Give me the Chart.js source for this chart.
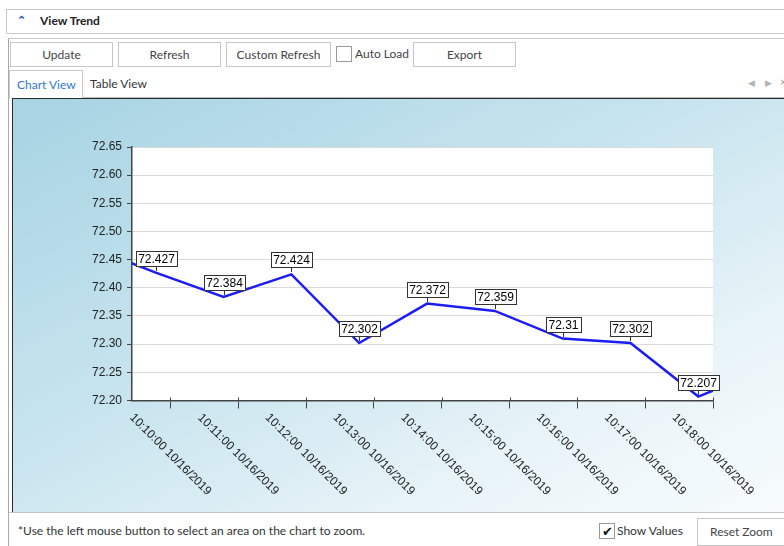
<!DOCTYPE html>
<html>
<head>
<meta charset="utf-8">
<title>View Trend</title>
<script src="https://cdn.jsdelivr.net/npm/chart.js@4.4.1/dist/chart.umd.min.js"></script>
<style>
  body { margin: 0; width: 784px; height: 546px; overflow: hidden; background: #fff;
         font-family: "Segoe UI", Lato, "Noto Sans", sans-serif; font-size: 12px; color: #333; position: relative; }
  .abs { position: absolute; }
  .header { left: 6px; top: 9px; width: 800px; height: 23px; border: 1px solid #c9c9c9; border-right: none; }
  .header .chev { position: absolute; left: 10px; top: 3px; color: #2b5fa6; font-size: 11px; font-weight: bold; }
  .header .title { position: absolute; left: 33px; top: 3px; font-weight: bold; color: #222; font-size: 12px; }
  .frame { left: 8px; top: 38px; width: 800px; height: 520px; border-left: 1px solid #a9a9a9; border-top: 1px solid #c9c9c9; }
  .btn { position: absolute; top: 42px; height: 23px; border: 1px solid #c6c6c6; background: #fff;
         text-align: center; line-height: 23px; color: #444; }
  .chk { position: absolute; width: 14px; height: 14px; border: 1px solid #9a9a9a; background: #fff; }
  .tabline { left: 9px; top: 97px; width: 780px; border-top: 1px solid #bdbdbd; }
  .tab { left: 9px; top: 70px; width: 72px; height: 27px; border: 1px solid #c9c9c9; border-bottom: 1px solid #fff;
         background: #fff; color: #2e79c9; line-height: 27px; text-indent: 7px; }
  .panel { left: 12px; top: 98px; width: 800px; height: 413px; border-top: 1px solid #2b2b2b; border-left: 1px solid #2b2b2b;
           background: linear-gradient(to bottom right, #a7d3e3 0%, #c9e5ef 45%, #e9f4f8 75%, #f8fcfd 100%); }
  .panel canvas { position: absolute; left: 0; top: 0; }
  .footer { left: 9px; top: 512px; width: 790px; border-top: 1px solid #c4c4c4; }
</style>
</head>
<body>

<div class="abs header"><span class="chev">&#8963;</span><span class="title">View Trend</span></div>
<div class="abs frame"></div>

<div class="btn" style="left:10px;width:101px;">Update</div>
<div class="btn" style="left:118px;width:101px;">Refresh</div>
<div class="btn" style="left:226px;width:103px;">Custom Refresh</div>
<div class="chk" style="left:336px;top:46px;"></div>
<div class="abs" style="left:355px;top:46px;color:#444;">Auto Load</div>
<div class="btn" style="left:413px;width:101px;">Export</div>

<div class="abs tabline"></div>
<div class="abs tab">Chart View</div>
<div class="abs" style="left:90px;top:76px;color:#333;">Table View</div>
<div class="abs" style="left:748px;top:77px;color:#b5b5b5;font-size:9px;">&#9664;</div>
<div class="abs" style="left:765px;top:77px;color:#b5b5b5;font-size:9px;">&#9654;</div>
<div class="abs" style="left:780px;top:75px;color:#999;font-size:11px;">&#215;</div>

<div class="abs panel">
  <canvas id="trend" width="771" height="413"></canvas>
</div>

<div class="abs footer"></div>
<div class="abs" style="left:18px;top:523px;color:#333;">*Use the left mouse button to select an area on the chart to zoom.</div>
<div class="chk" style="left:599px;top:523px;line-height:14px;text-align:center;font-size:13px;color:#111;">&#10004;</div>
<div class="abs" style="left:617px;top:523px;color:#333;">Show Values</div>
<div class="btn" style="left:697px;top:518px;width:100px;height:26px;line-height:26px;text-align:left;text-indent:12px;">Reset Zoom</div>

<script>
// sample times (one reading per minute), first and last fall outside the visible window
const times = ["10:08:47", "10:09:47", "10:10:47", "10:11:47", "10:12:47", "10:13:47",
  "10:14:47", "10:15:47", "10:16:47", "10:17:47", "10:18:47"];
const values = [72.474, 72.427, 72.384, 72.424, 72.302, 72.372, 72.359, 72.31, 72.302, 72.207, 72.255];

const tickTimes = ["10:10:00", "10:11:00", "10:12:00", "10:13:00", "10:14:00",
  "10:15:00", "10:16:00", "10:17:00", "10:18:00"];
const dateLabel = "10/16/2019";

const viewStart = "10:09:26";
const viewEnd = "10:18:00";

const yMin = 72.2;
const yMax = 72.65;
const yStep = 0.05;

const chartFont = "'Liberation Sans', Arial, sans-serif";

// "hh:mm:ss" -> seconds
const toSec = (t) => {
  const p = t.split(":").map(Number);
  return p[0] * 3600 + p[1] * 60 + p[2];
};

const points = times.map((t, i) => ({ x: toSec(t), y: values[i] }));

const trendPlugin = {
  id: "trendExtras",
  beforeDraw(chart) {
    const { ctx, chartArea: a } = chart;
    ctx.save();
    ctx.fillStyle = "#ffffff";
    ctx.fillRect(a.left, a.top, a.right - a.left, a.bottom - a.top);
    ctx.restore();
  },
  afterDraw(chart) {
    const { ctx, chartArea: a } = chart;
    const xs = chart.scales.x;
    ctx.save();
    // small part of the x tick marks above the axis
    ctx.strokeStyle = "#444";
    ctx.lineWidth = 1;
    xs.ticks.forEach((tk) => {
      const px = Math.round(xs.getPixelForValue(tk.value)) + 0.5;
      ctx.beginPath();
      ctx.moveTo(px, a.bottom - 3);
      ctx.lineTo(px, a.bottom);
      ctx.stroke();
    });
    // rotated tick labels, centred under each tick
    ctx.font = "12px " + chartFont;
    ctx.fillStyle = "#222";
    ctx.textAlign = "center";
    ctx.textBaseline = "middle";
    xs.ticks.forEach((tk, i) => {
      const px = xs.getPixelForValue(tk.value);
      ctx.save();
      ctx.translate(px, a.bottom + 54);
      ctx.rotate(Math.PI / 4);
      ctx.fillText(tickTimes[i] + " " + dateLabel, 0, 0);
      ctx.restore();
    });
    ctx.restore();
  },
  afterDatasetsDraw(chart) {
    const { ctx, chartArea: a } = chart;
    const meta = chart.getDatasetMeta(0);
    ctx.save();
    ctx.font = "12px " + chartFont;
    ctx.textAlign = "center";
    ctx.textBaseline = "middle";
    meta.data.forEach((pt, i) => {
      if (pt.x < a.left - 1 || pt.x > a.right + 1) return;
      const txt = String(values[i]);
      const w = Math.ceil(ctx.measureText(txt).width) + 4;
      const h = 15;
      const x = Math.round(pt.x);
      const bottom = Math.round(pt.y) - 7;
      // pointer
      ctx.strokeStyle = "#333";
      ctx.lineWidth = 1;
      ctx.beginPath();
      ctx.moveTo(x + 0.5, bottom);
      ctx.lineTo(x + 0.5, bottom + 5);
      ctx.stroke();
      // box
      const left = Math.round(x - w / 2);
      ctx.fillStyle = "#fff";
      ctx.fillRect(left, bottom - h, w, h);
      ctx.strokeRect(left + 0.5, bottom - h + 0.5, w, h);
      ctx.fillStyle = "#000";
      ctx.fillText(txt, x + 0.5, bottom - h / 2 + 1);
    });
    ctx.restore();
  },
};

new Chart(document.getElementById("trend"), {
  type: "line",
  data: {
    datasets: [
      {
        data: points,
        borderColor: "#1d1df2",
        borderWidth: 2.5,
        pointRadius: 0,
        tension: 0,
        fill: false,
      },
    ],
  },
  options: {
    responsive: false,
    animation: false,
    layout: { padding: { left: 0, top: 48, right: 71, bottom: 0 } },
    plugins: { legend: { display: false }, tooltip: { enabled: false } },
    scales: {
      x: {
        type: "linear",
        min: toSec(viewStart),
        max: toSec(viewEnd),
        afterBuildTicks: (s) => {
          s.ticks = tickTimes.map((t) => ({ value: toSec(t) }));
        },
        afterFit: (s) => {
          s.height = 111.5;
        },
        ticks: { display: false },
        grid: { drawOnChartArea: false, tickLength: 8, tickColor: "#444" },
        border: { color: "#444", width: 1.5 },
      },
      y: {
        min: yMin,
        max: yMax,
        afterFit: (s) => {
          s.width = 119;
        },
        ticks: {
          stepSize: yStep,
          padding: 5,
          color: "#222",
          font: { family: chartFont, size: 12 },
          callback: (v) => Number(v).toFixed(2),
        },
        grid: { color: "#dadada", tickColor: "#444", tickLength: 5 },
        border: { color: "#444", width: 1.5 },
      },
    },
  },
  plugins: [trendPlugin],
});
</script>
</body>
</html>
